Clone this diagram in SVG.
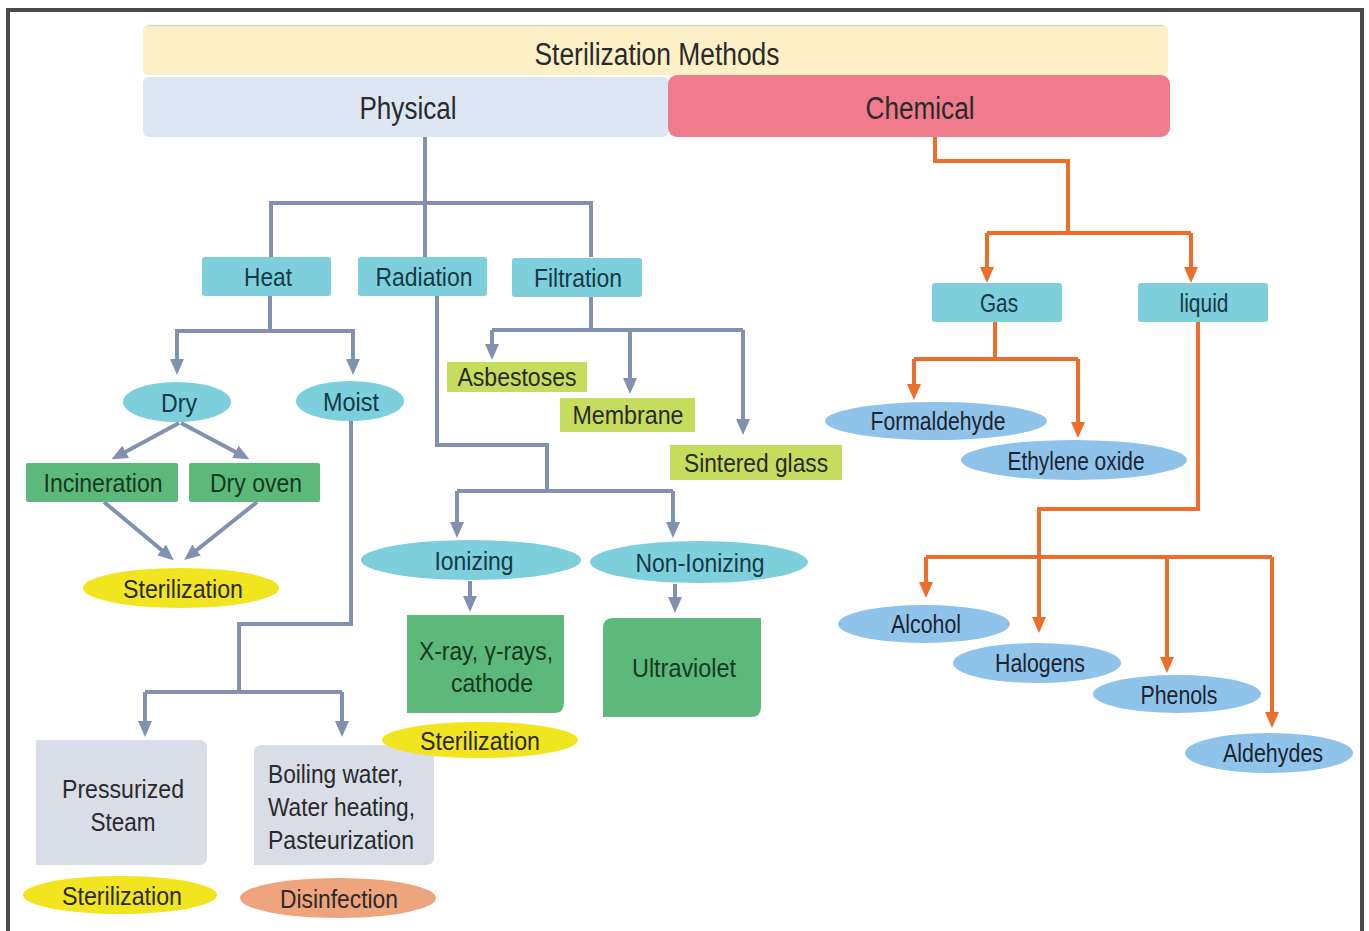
<svg xmlns="http://www.w3.org/2000/svg" width="1369" height="931" viewBox="0 0 1369 931">
<style>
text{font-family:"Liberation Sans",Arial,sans-serif;text-anchor:middle;dominant-baseline:central;fill:#1b2530}
.lb{font-size:26px}
.big{font-size:31px}
.teal{fill:#7dcfdc}
.grn{fill:#5db87c}
.lime{fill:#c6dc5c}
.sky{fill:#8fc3ea}
.yel{fill:#f0e51e}
.gry{fill:#d9dde8}
.gc{fill:none;stroke:#8291b0;stroke-width:4;stroke-linejoin:miter}
.oc{fill:none;stroke:#ec6e2a;stroke-width:4;stroke-linejoin:miter}
.ga{marker-end:url(#ag)}
.oa{marker-end:url(#ao)}
.tg{fill:#143a1d}
.tt{fill:#153a45}
.tl{fill:#2a2a2a}
</style>
<defs>
<marker id="ag" viewBox="0 0 16 14" markerWidth="16" markerHeight="14" refX="11" refY="7" orient="auto" markerUnits="userSpaceOnUse"><path d="M0,0 L16,7 L0,14 z" fill="#8291b0"/></marker>
<marker id="ao" viewBox="0 0 16 14" markerWidth="16" markerHeight="14" refX="11" refY="7" orient="auto" markerUnits="userSpaceOnUse"><path d="M0,0 L16,7 L0,14 z" fill="#ec6e2a"/></marker>
</defs>
<rect x="0" y="0" width="1369" height="931" fill="#ffffff"/>
<rect x="8" y="10" width="1354" height="935" fill="none" stroke="#4a4a4a" stroke-width="4"/>

<g id="connectors">
<!-- physical -->
<path class="gc" d="M425,137 V257 M271,257 V203 H591 V257"/>
<path class="gc" d="M270,296 V331 M177,371 V331 H353 V371"/>
<path class="gc ga" d="M177,331 V370"/>
<path class="gc ga" d="M353,331 V370"/>
<path class="gc ga" d="M179,423 L116,457"/>
<path class="gc ga" d="M181,423 L245,457"/>
<path class="gc ga" d="M104,502 L170,557"/>
<path class="gc ga" d="M257,502 L188,557"/>
<path class="gc" d="M351,421 V624 H239 V692 M145,692 H342"/>
<path class="gc ga" d="M145,692 V732"/>
<path class="gc ga" d="M342,692 V732"/>
<path class="gc" d="M437,296 V445 H547 V491 M457,491 H673"/>
<path class="gc ga" d="M457,491 V533"/>
<path class="gc ga" d="M673,491 V533"/>
<path class="gc ga" d="M470,581 V607"/>
<path class="gc ga" d="M675,584 V608"/>
<path class="gc" d="M591,297 V330 M492,330 H743"/>
<path class="gc ga" d="M492,330 V355"/>
<path class="gc ga" d="M630,330 V389"/>
<path class="gc ga" d="M743,330 V430"/>
<!-- chemical -->
<path class="oc" d="M935,137 V161 H1068 V233 M987,233 H1191"/>
<path class="oc oa" d="M987,233 V278"/>
<path class="oc oa" d="M1191,233 V278"/>
<path class="oc" d="M995,322 V359 M914,359 H1078"/>
<path class="oc oa" d="M914,359 V395"/>
<path class="oc oa" d="M1078,359 V433"/>
<path class="oc" d="M1198,322 V509 H1039 V557 M926,557 H1272"/>
<path class="oc oa" d="M1039,557 V628"/>
<path class="oc oa" d="M926,557 V593"/>
<path class="oc oa" d="M1167,557 V668"/>
<path class="oc oa" d="M1272,557 V723"/>
</g>

<g id="title"><rect x="143" y="25" width="1025" height="50" rx="5" fill="#fdf0c6"/><line x1="148" y1="25.5" x2="1163" y2="25.5" stroke="#d6d6d0" stroke-width="1.5"/><text class="big tl" x="657" y="54" textLength="245" lengthAdjust="spacingAndGlyphs">Sterilization Methods</text></g>
<g id="physical"><rect x="143" y="77" width="526" height="60" rx="6" fill="#dde7f4"/><text class="big tl" x="408" y="108" textLength="97" lengthAdjust="spacingAndGlyphs">Physical</text></g>
<g id="chemical"><rect x="668" y="75" width="502" height="62" rx="9" fill="#f07b8c"/><text class="big tl" x="920" y="108" textLength="109" lengthAdjust="spacingAndGlyphs">Chemical</text></g>

<g id="heat"><rect class="teal" x="202" y="257" width="129" height="39" rx="3"/><text class="lb tt" x="268" y="277" textLength="48" lengthAdjust="spacingAndGlyphs">Heat</text></g>
<g id="radiation"><rect class="teal" x="358" y="257" width="129" height="39" rx="3"/><text class="lb tt" x="424" y="277" textLength="97" lengthAdjust="spacingAndGlyphs">Radiation</text></g>
<g id="filtration"><rect class="teal" x="512" y="258" width="130" height="39" rx="3"/><text class="lb tt" x="578" y="278" textLength="88" lengthAdjust="spacingAndGlyphs">Filtration</text></g>

<g id="dry"><ellipse class="teal" cx="177" cy="402" rx="54" ry="20"/><text class="lb tt" x="179" y="403" textLength="36" lengthAdjust="spacingAndGlyphs">Dry</text></g>
<g id="moist"><ellipse class="teal" cx="350" cy="401" rx="54" ry="20"/><text class="lb tt" x="351" y="402" textLength="56" lengthAdjust="spacingAndGlyphs">Moist</text></g>
<g id="incineration"><rect class="grn" x="26" y="463" width="152" height="39" rx="2"/><text class="lb tg" x="103" y="483" textLength="119" lengthAdjust="spacingAndGlyphs">Incineration</text></g>
<g id="dryoven"><rect class="grn" x="189" y="463" width="131" height="39" rx="2"/><text class="lb tg" x="256" y="483" textLength="92" lengthAdjust="spacingAndGlyphs">Dry oven</text></g>
<g id="sterilization1"><ellipse class="yel" cx="181" cy="588" rx="98" ry="20"/><text class="lb tl" x="183" y="589" textLength="120" lengthAdjust="spacingAndGlyphs">Sterilization</text></g>

<g id="steam"><path class="gry" d="M36,740 H199 Q207,740 207,748 V857 Q207,865 199,865 H36 Z"/><text class="lb tl" x="123" y="789" textLength="122" lengthAdjust="spacingAndGlyphs">Pressurized</text><text class="lb tl" x="123" y="822" textLength="65" lengthAdjust="spacingAndGlyphs">Steam</text></g>
<g id="boiling"><path class="gry" d="M262,745 H434 V857 Q434,865 426,865 H254 V753 Q254,745 262,745 Z"/><text class="lb tl" x="268" y="774" textLength="135" lengthAdjust="spacingAndGlyphs" style="text-anchor:start">Boiling water,</text><text class="lb tl" x="268" y="807" textLength="147" lengthAdjust="spacingAndGlyphs" style="text-anchor:start">Water heating,</text><text class="lb tl" x="268" y="840" textLength="146" lengthAdjust="spacingAndGlyphs" style="text-anchor:start">Pasteurization</text></g>
<g id="sterilization3"><ellipse class="yel" cx="120" cy="895" rx="97" ry="19"/><text class="lb tl" x="122" y="896" textLength="120" lengthAdjust="spacingAndGlyphs">Sterilization</text></g>
<g id="disinfection"><ellipse cx="338" cy="898" rx="98" ry="20" fill="#eea47c"/><text class="lb tl" x="339" y="899" textLength="118" lengthAdjust="spacingAndGlyphs">Disinfection</text></g>

<g id="ionizing"><ellipse class="teal" cx="471" cy="560" rx="110" ry="20"/><text class="lb tt" x="474" y="561" textLength="79" lengthAdjust="spacingAndGlyphs">Ionizing</text></g>
<g id="nonionizing"><ellipse class="teal" cx="699" cy="562" rx="109" ry="21"/><text class="lb tt" x="700" y="563" textLength="129" lengthAdjust="spacingAndGlyphs">Non-Ionizing</text></g>
<g id="xray"><path class="grn" d="M407,615 H564 V703 Q564,713 554,713 H407 Z"/><text class="lb tg" x="486" y="651" textLength="134" lengthAdjust="spacingAndGlyphs">X-ray, γ-rays,</text><text class="lb tg" x="492" y="683" textLength="82" lengthAdjust="spacingAndGlyphs">cathode</text></g>
<g id="ultraviolet"><path class="grn" d="M613,618 H761 V707 Q761,717 751,717 H603 V628 Q603,618 613,618 Z"/><text class="lb tg" x="684" y="668" textLength="104" lengthAdjust="spacingAndGlyphs">Ultraviolet</text></g>
<g id="sterilization2"><ellipse class="yel" cx="480" cy="740" rx="98" ry="18"/><text class="lb tl" x="480" y="741" textLength="120" lengthAdjust="spacingAndGlyphs">Sterilization</text></g>

<g id="asbestoses"><rect class="lime" x="447" y="362" width="140" height="30"/><text class="lb tl" x="517" y="377" textLength="119" lengthAdjust="spacingAndGlyphs">Asbestoses</text></g>
<g id="membrane"><rect class="lime" x="560" y="398" width="135" height="34"/><text class="lb tl" x="628" y="415" textLength="111" lengthAdjust="spacingAndGlyphs">Membrane</text></g>
<g id="sintered"><rect class="lime" x="670" y="445" width="172" height="35"/><text class="lb tl" x="756" y="463" textLength="144" lengthAdjust="spacingAndGlyphs">Sintered glass</text></g>

<g id="gas"><rect class="teal" x="932" y="283" width="130" height="39" rx="3"/><text class="lb tt" x="999" y="303" textLength="38" lengthAdjust="spacingAndGlyphs">Gas</text></g>
<g id="liquid"><rect class="teal" x="1138" y="283" width="130" height="39" rx="3"/><text class="lb tt" x="1204" y="303" textLength="49" lengthAdjust="spacingAndGlyphs">liquid</text></g>
<g id="formaldehyde"><ellipse class="sky" cx="936" cy="421" rx="111" ry="19"/><text class="lb" x="938" y="421" textLength="135" lengthAdjust="spacingAndGlyphs">Formaldehyde</text></g>
<g id="ethylene"><ellipse class="sky" cx="1074" cy="460" rx="113" ry="20"/><text class="lb" x="1076" y="461" textLength="137" lengthAdjust="spacingAndGlyphs">Ethylene oxide</text></g>
<g id="alcohol"><ellipse class="sky" cx="924" cy="624" rx="86" ry="19"/><text class="lb" x="926" y="624" textLength="70" lengthAdjust="spacingAndGlyphs">Alcohol</text></g>
<g id="halogens"><ellipse class="sky" cx="1037" cy="663" rx="84" ry="20"/><text class="lb" x="1040" y="663" textLength="90" lengthAdjust="spacingAndGlyphs">Halogens</text></g>
<g id="phenols"><ellipse class="sky" cx="1177" cy="694" rx="84" ry="19"/><text class="lb" x="1179" y="695" textLength="77" lengthAdjust="spacingAndGlyphs">Phenols</text></g>
<g id="aldehydes"><ellipse class="sky" cx="1269" cy="753" rx="84" ry="20"/><text class="lb" x="1273" y="753" textLength="100" lengthAdjust="spacingAndGlyphs">Aldehydes</text></g>
</svg>
